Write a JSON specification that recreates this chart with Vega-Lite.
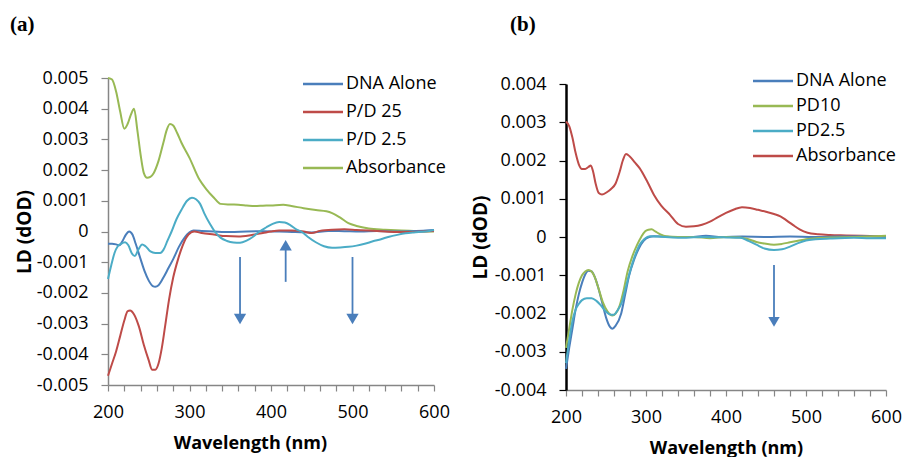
{
  "$schema": "https://vega.github.io/schema/vega-lite/v6.json",
  "background": "white",
  "padding": {"left": 10, "top": 14, "right": 5, "bottom": 0},
  "spacing": 21,
  "config": {
    "view": {"stroke": null},
    "font": "Open Sans",
    "axis": {"grid": false, "labelFont": "Open Sans", "labelFontSize": 18, "labelColor": "#000", "labelOverlap": false, "labelBound": false, "titleFont": "Open Sans", "titleFontSize": 18, "titleFontWeight": "bold", "titleColor": "#000", "domainColor": "#868686", "tickColor": "#868686", "domainWidth": 1.5, "tickWidth": 1.2, "tickSize": 6},
    "legend": {"labelFont": "Open Sans", "labelFontSize": 18, "labelColor": "#000", "symbolType": "M-5,0L5,0", "symbolStrokeWidth": 2.5, "symbolSize": 64, "padding": 0, "labelOffset": 14},
    "title": {"font": "Liberation Serif", "fontSize": 21, "fontWeight": "bold", "color": "#000", "anchor": "start", "frame": "group"}
  },
  "datasets": {
    "a": [
      {"wl":200,"ld":0.005,"s":"Absorbance"},{"wl":205,"ld":0.00495,"s":"Absorbance"},{"wl":210,"ld":0.00455,"s":"Absorbance"},{"wl":215,"ld":0.0039,"s":"Absorbance"},{"wl":220,"ld":0.00335,"s":"Absorbance"},{"wl":224,"ld":0.0035,"s":"Absorbance"},{"wl":228,"ld":0.0038,"s":"Absorbance"},{"wl":232,"ld":0.004,"s":"Absorbance"},{"wl":236,"ld":0.0033,"s":"Absorbance"},{"wl":240,"ld":0.0025,"s":"Absorbance"},{"wl":244,"ld":0.0019,"s":"Absorbance"},{"wl":248,"ld":0.00175,"s":"Absorbance"},{"wl":252,"ld":0.00178,"s":"Absorbance"},{"wl":256,"ld":0.0019,"s":"Absorbance"},{"wl":262,"ld":0.0023,"s":"Absorbance"},{"wl":268,"ld":0.0029,"s":"Absorbance"},{"wl":272,"ld":0.0033,"s":"Absorbance"},{"wl":276,"ld":0.0035,"s":"Absorbance"},{"wl":280,"ld":0.00345,"s":"Absorbance"},{"wl":285,"ld":0.0032,"s":"Absorbance"},{"wl":290,"ld":0.0029,"s":"Absorbance"},{"wl":300,"ld":0.0024,"s":"Absorbance"},{"wl":312,"ld":0.0017,"s":"Absorbance"},{"wl":320,"ld":0.0014,"s":"Absorbance"},{"wl":330,"ld":0.0011,"s":"Absorbance"},{"wl":338,"ld":0.0009,"s":"Absorbance"},{"wl":350,"ld":0.00088,"s":"Absorbance"},{"wl":360,"ld":0.00087,"s":"Absorbance"},{"wl":370,"ld":0.00085,"s":"Absorbance"},{"wl":380,"ld":0.00083,"s":"Absorbance"},{"wl":390,"ld":0.00084,"s":"Absorbance"},{"wl":400,"ld":0.00085,"s":"Absorbance"},{"wl":415,"ld":0.00087,"s":"Absorbance"},{"wl":425,"ld":0.00083,"s":"Absorbance"},{"wl":440,"ld":0.00076,"s":"Absorbance"},{"wl":455,"ld":0.0007,"s":"Absorbance"},{"wl":468,"ld":0.00066,"s":"Absorbance"},{"wl":475,"ld":0.0006,"s":"Absorbance"},{"wl":485,"ld":0.00045,"s":"Absorbance"},{"wl":495,"ld":0.00027,"s":"Absorbance"},{"wl":505,"ld":0.00018,"s":"Absorbance"},{"wl":520,"ld":0.0001,"s":"Absorbance"},{"wl":540,"ld":0.00006,"s":"Absorbance"},{"wl":560,"ld":0.00003,"s":"Absorbance"},{"wl":580,"ld":0.00001,"s":"Absorbance"},{"wl":600,"ld":0.0,"s":"Absorbance"},
      {"wl":200,"ld":-0.0004,"s":"DNA Alone"},{"wl":205,"ld":-0.0004,"s":"DNA Alone"},{"wl":210,"ld":-0.00042,"s":"DNA Alone"},{"wl":214,"ld":-0.00045,"s":"DNA Alone"},{"wl":218,"ld":-0.0003,"s":"DNA Alone"},{"wl":222,"ld":-0.0001,"s":"DNA Alone"},{"wl":226,"ld":0.0,"s":"DNA Alone"},{"wl":230,"ld":-0.0001,"s":"DNA Alone"},{"wl":234,"ld":-0.0004,"s":"DNA Alone"},{"wl":240,"ld":-0.0009,"s":"DNA Alone"},{"wl":245,"ld":-0.0013,"s":"DNA Alone"},{"wl":250,"ld":-0.0016,"s":"DNA Alone"},{"wl":255,"ld":-0.00178,"s":"DNA Alone"},{"wl":258,"ld":-0.0018,"s":"DNA Alone"},{"wl":262,"ld":-0.00175,"s":"DNA Alone"},{"wl":268,"ld":-0.0015,"s":"DNA Alone"},{"wl":274,"ld":-0.0012,"s":"DNA Alone"},{"wl":280,"ld":-0.0009,"s":"DNA Alone"},{"wl":287,"ld":-0.0005,"s":"DNA Alone"},{"wl":294,"ld":-0.0002,"s":"DNA Alone"},{"wl":300,"ld":-0.00003,"s":"DNA Alone"},{"wl":305,"ld":0.00003,"s":"DNA Alone"},{"wl":315,"ld":0.00002,"s":"DNA Alone"},{"wl":330,"ld":0.0,"s":"DNA Alone"},{"wl":350,"ld":-0.00002,"s":"DNA Alone"},{"wl":370,"ld":0.0,"s":"DNA Alone"},{"wl":390,"ld":0.00001,"s":"DNA Alone"},{"wl":410,"ld":0.0,"s":"DNA Alone"},{"wl":430,"ld":-0.00002,"s":"DNA Alone"},{"wl":450,"ld":-0.00003,"s":"DNA Alone"},{"wl":470,"ld":0.00002,"s":"DNA Alone"},{"wl":490,"ld":0.00001,"s":"DNA Alone"},{"wl":510,"ld":0.0,"s":"DNA Alone"},{"wl":530,"ld":0.00002,"s":"DNA Alone"},{"wl":550,"ld":0.0,"s":"DNA Alone"},{"wl":570,"ld":0.00001,"s":"DNA Alone"},{"wl":590,"ld":0.00003,"s":"DNA Alone"},{"wl":600,"ld":0.00005,"s":"DNA Alone"},
      {"wl":200,"ld":-0.0047,"s":"P/D 25"},{"wl":205,"ld":-0.0043,"s":"P/D 25"},{"wl":210,"ld":-0.0039,"s":"P/D 25"},{"wl":215,"ld":-0.0034,"s":"P/D 25"},{"wl":220,"ld":-0.0029,"s":"P/D 25"},{"wl":224,"ld":-0.0026,"s":"P/D 25"},{"wl":227,"ld":-0.00257,"s":"P/D 25"},{"wl":232,"ld":-0.0027,"s":"P/D 25"},{"wl":238,"ld":-0.0031,"s":"P/D 25"},{"wl":244,"ld":-0.0037,"s":"P/D 25"},{"wl":250,"ld":-0.0042,"s":"P/D 25"},{"wl":254,"ld":-0.0045,"s":"P/D 25"},{"wl":258,"ld":-0.0045,"s":"P/D 25"},{"wl":262,"ld":-0.0043,"s":"P/D 25"},{"wl":266,"ld":-0.0038,"s":"P/D 25"},{"wl":270,"ld":-0.0031,"s":"P/D 25"},{"wl":275,"ld":-0.0022,"s":"P/D 25"},{"wl":280,"ld":-0.0015,"s":"P/D 25"},{"wl":286,"ld":-0.0009,"s":"P/D 25"},{"wl":291,"ld":-0.0005,"s":"P/D 25"},{"wl":296,"ld":-0.0002,"s":"P/D 25"},{"wl":302,"ld":-0.00003,"s":"P/D 25"},{"wl":306,"ld":0.0,"s":"P/D 25"},{"wl":315,"ld":-0.00005,"s":"P/D 25"},{"wl":330,"ld":-0.0001,"s":"P/D 25"},{"wl":345,"ld":-0.00015,"s":"P/D 25"},{"wl":360,"ld":-0.00016,"s":"P/D 25"},{"wl":375,"ld":-0.00012,"s":"P/D 25"},{"wl":390,"ld":-0.00005,"s":"P/D 25"},{"wl":400,"ld":0.0,"s":"P/D 25"},{"wl":410,"ld":0.00003,"s":"P/D 25"},{"wl":425,"ld":0.00003,"s":"P/D 25"},{"wl":440,"ld":0.0,"s":"P/D 25"},{"wl":450,"ld":-0.00005,"s":"P/D 25"},{"wl":460,"ld":0.00002,"s":"P/D 25"},{"wl":475,"ld":0.00006,"s":"P/D 25"},{"wl":490,"ld":0.00007,"s":"P/D 25"},{"wl":505,"ld":0.00005,"s":"P/D 25"},{"wl":520,"ld":0.00003,"s":"P/D 25"},{"wl":540,"ld":0.0,"s":"P/D 25"},{"wl":555,"ld":-0.00002,"s":"P/D 25"},{"wl":570,"ld":-0.00002,"s":"P/D 25"},{"wl":585,"ld":0.0,"s":"P/D 25"},{"wl":600,"ld":0.00002,"s":"P/D 25"},
      {"wl":200,"ld":-0.00155,"s":"P/D 2.5"},{"wl":204,"ld":-0.0011,"s":"P/D 2.5"},{"wl":208,"ld":-0.0007,"s":"P/D 2.5"},{"wl":212,"ld":-0.00048,"s":"P/D 2.5"},{"wl":216,"ld":-0.0004,"s":"P/D 2.5"},{"wl":221,"ld":-0.00035,"s":"P/D 2.5"},{"wl":225,"ld":-0.00045,"s":"P/D 2.5"},{"wl":229,"ld":-0.0007,"s":"P/D 2.5"},{"wl":233,"ld":-0.0008,"s":"P/D 2.5"},{"wl":237,"ld":-0.0006,"s":"P/D 2.5"},{"wl":242,"ld":-0.00042,"s":"P/D 2.5"},{"wl":246,"ld":-0.00048,"s":"P/D 2.5"},{"wl":252,"ld":-0.00065,"s":"P/D 2.5"},{"wl":258,"ld":-0.0007,"s":"P/D 2.5"},{"wl":264,"ld":-0.0007,"s":"P/D 2.5"},{"wl":268,"ld":-0.0006,"s":"P/D 2.5"},{"wl":273,"ld":-0.0003,"s":"P/D 2.5"},{"wl":278,"ld":0.0,"s":"P/D 2.5"},{"wl":284,"ld":0.0004,"s":"P/D 2.5"},{"wl":290,"ld":0.0007,"s":"P/D 2.5"},{"wl":297,"ld":0.001,"s":"P/D 2.5"},{"wl":303,"ld":0.0011,"s":"P/D 2.5"},{"wl":308,"ld":0.00105,"s":"P/D 2.5"},{"wl":313,"ld":0.0009,"s":"P/D 2.5"},{"wl":318,"ld":0.0006,"s":"P/D 2.5"},{"wl":325,"ld":0.00025,"s":"P/D 2.5"},{"wl":331,"ld":0.0,"s":"P/D 2.5"},{"wl":338,"ld":-0.0002,"s":"P/D 2.5"},{"wl":346,"ld":-0.00031,"s":"P/D 2.5"},{"wl":354,"ld":-0.00036,"s":"P/D 2.5"},{"wl":362,"ld":-0.00037,"s":"P/D 2.5"},{"wl":370,"ld":-0.0003,"s":"P/D 2.5"},{"wl":378,"ld":-0.00017,"s":"P/D 2.5"},{"wl":386,"ld":0.0,"s":"P/D 2.5"},{"wl":394,"ld":0.00013,"s":"P/D 2.5"},{"wl":402,"ld":0.00025,"s":"P/D 2.5"},{"wl":410,"ld":0.00031,"s":"P/D 2.5"},{"wl":417,"ld":0.00029,"s":"P/D 2.5"},{"wl":424,"ld":0.0002,"s":"P/D 2.5"},{"wl":431,"ld":0.00007,"s":"P/D 2.5"},{"wl":437,"ld":0.0,"s":"P/D 2.5"},{"wl":445,"ld":-0.00017,"s":"P/D 2.5"},{"wl":455,"ld":-0.00035,"s":"P/D 2.5"},{"wl":465,"ld":-0.00048,"s":"P/D 2.5"},{"wl":475,"ld":-0.00053,"s":"P/D 2.5"},{"wl":485,"ld":-0.00052,"s":"P/D 2.5"},{"wl":495,"ld":-0.0005,"s":"P/D 2.5"},{"wl":505,"ld":-0.00046,"s":"P/D 2.5"},{"wl":515,"ld":-0.0004,"s":"P/D 2.5"},{"wl":525,"ld":-0.00032,"s":"P/D 2.5"},{"wl":535,"ld":-0.00025,"s":"P/D 2.5"},{"wl":545,"ld":-0.00017,"s":"P/D 2.5"},{"wl":555,"ld":-0.00011,"s":"P/D 2.5"},{"wl":565,"ld":-0.00006,"s":"P/D 2.5"},{"wl":575,"ld":-0.00003,"s":"P/D 2.5"},{"wl":590,"ld":0.0,"s":"P/D 2.5"},{"wl":600,"ld":0.00005,"s":"P/D 2.5"}
    ],
    "b": [
      {"wl":200,"ld":0.00302,"s":"Absorbance"},{"wl":204,"ld":0.0029,"s":"Absorbance"},{"wl":208,"ld":0.0026,"s":"Absorbance"},{"wl":212,"ld":0.0022,"s":"Absorbance"},{"wl":216,"ld":0.0019,"s":"Absorbance"},{"wl":220,"ld":0.00178,"s":"Absorbance"},{"wl":224,"ld":0.00178,"s":"Absorbance"},{"wl":228,"ld":0.00183,"s":"Absorbance"},{"wl":231,"ld":0.00187,"s":"Absorbance"},{"wl":234,"ld":0.0017,"s":"Absorbance"},{"wl":237,"ld":0.0014,"s":"Absorbance"},{"wl":241,"ld":0.00115,"s":"Absorbance"},{"wl":245,"ld":0.00111,"s":"Absorbance"},{"wl":251,"ld":0.00117,"s":"Absorbance"},{"wl":256,"ld":0.00125,"s":"Absorbance"},{"wl":262,"ld":0.0014,"s":"Absorbance"},{"wl":267,"ld":0.0017,"s":"Absorbance"},{"wl":271,"ld":0.002,"s":"Absorbance"},{"wl":275,"ld":0.00217,"s":"Absorbance"},{"wl":280,"ld":0.0021,"s":"Absorbance"},{"wl":286,"ld":0.00195,"s":"Absorbance"},{"wl":292,"ld":0.0018,"s":"Absorbance"},{"wl":302,"ld":0.00143,"s":"Absorbance"},{"wl":310,"ld":0.0011,"s":"Absorbance"},{"wl":319,"ld":0.00082,"s":"Absorbance"},{"wl":330,"ld":0.00058,"s":"Absorbance"},{"wl":340,"ld":0.00034,"s":"Absorbance"},{"wl":350,"ld":0.00027,"s":"Absorbance"},{"wl":360,"ld":0.00028,"s":"Absorbance"},{"wl":370,"ld":0.00032,"s":"Absorbance"},{"wl":380,"ld":0.0004,"s":"Absorbance"},{"wl":390,"ld":0.00052,"s":"Absorbance"},{"wl":400,"ld":0.00063,"s":"Absorbance"},{"wl":410,"ld":0.00072,"s":"Absorbance"},{"wl":420,"ld":0.00078,"s":"Absorbance"},{"wl":430,"ld":0.00076,"s":"Absorbance"},{"wl":440,"ld":0.00071,"s":"Absorbance"},{"wl":450,"ld":0.00066,"s":"Absorbance"},{"wl":460,"ld":0.0006,"s":"Absorbance"},{"wl":468,"ld":0.00054,"s":"Absorbance"},{"wl":476,"ld":0.00043,"s":"Absorbance"},{"wl":484,"ld":0.00031,"s":"Absorbance"},{"wl":492,"ld":0.0002,"s":"Absorbance"},{"wl":502,"ld":0.00011,"s":"Absorbance"},{"wl":515,"ld":0.00007,"s":"Absorbance"},{"wl":530,"ld":0.00005,"s":"Absorbance"},{"wl":550,"ld":0.00004,"s":"Absorbance"},{"wl":570,"ld":0.00003,"s":"Absorbance"},{"wl":585,"ld":0.00002,"s":"Absorbance"},{"wl":600,"ld":0.00001,"s":"Absorbance"},
      {"wl":200,"ld":-0.00345,"s":"DNA Alone"},{"wl":204,"ld":-0.0029,"s":"DNA Alone"},{"wl":208,"ld":-0.0024,"s":"DNA Alone"},{"wl":212,"ld":-0.0019,"s":"DNA Alone"},{"wl":216,"ld":-0.0015,"s":"DNA Alone"},{"wl":220,"ld":-0.0012,"s":"DNA Alone"},{"wl":224,"ld":-0.00098,"s":"DNA Alone"},{"wl":228,"ld":-0.00088,"s":"DNA Alone"},{"wl":232,"ld":-0.0009,"s":"DNA Alone"},{"wl":236,"ld":-0.00105,"s":"DNA Alone"},{"wl":240,"ld":-0.0013,"s":"DNA Alone"},{"wl":245,"ld":-0.0017,"s":"DNA Alone"},{"wl":250,"ld":-0.0021,"s":"DNA Alone"},{"wl":255,"ld":-0.00235,"s":"DNA Alone"},{"wl":258,"ld":-0.0024,"s":"DNA Alone"},{"wl":262,"ld":-0.00232,"s":"DNA Alone"},{"wl":269,"ld":-0.002,"s":"DNA Alone"},{"wl":274,"ld":-0.0015,"s":"DNA Alone"},{"wl":279,"ld":-0.001,"s":"DNA Alone"},{"wl":285,"ld":-0.0006,"s":"DNA Alone"},{"wl":291,"ld":-0.0003,"s":"DNA Alone"},{"wl":297,"ld":-0.0001,"s":"DNA Alone"},{"wl":304,"ld":0.0,"s":"DNA Alone"},{"wl":310,"ld":0.00002,"s":"DNA Alone"},{"wl":330,"ld":0.0,"s":"DNA Alone"},{"wl":355,"ld":0.0,"s":"DNA Alone"},{"wl":375,"ld":0.00003,"s":"DNA Alone"},{"wl":395,"ld":0.0,"s":"DNA Alone"},{"wl":420,"ld":0.00001,"s":"DNA Alone"},{"wl":450,"ld":0.0,"s":"DNA Alone"},{"wl":480,"ld":0.00001,"s":"DNA Alone"},{"wl":510,"ld":0.0,"s":"DNA Alone"},{"wl":540,"ld":0.00001,"s":"DNA Alone"},{"wl":570,"ld":0.00002,"s":"DNA Alone"},{"wl":600,"ld":0.0,"s":"DNA Alone"},
      {"wl":200,"ld":-0.0029,"s":"PD10"},{"wl":204,"ld":-0.0024,"s":"PD10"},{"wl":208,"ld":-0.0019,"s":"PD10"},{"wl":212,"ld":-0.0015,"s":"PD10"},{"wl":216,"ld":-0.0012,"s":"PD10"},{"wl":220,"ld":-0.001,"s":"PD10"},{"wl":224,"ld":-0.0009,"s":"PD10"},{"wl":228,"ld":-0.00086,"s":"PD10"},{"wl":232,"ld":-0.0009,"s":"PD10"},{"wl":236,"ld":-0.00105,"s":"PD10"},{"wl":240,"ld":-0.0013,"s":"PD10"},{"wl":246,"ld":-0.0017,"s":"PD10"},{"wl":252,"ld":-0.00195,"s":"PD10"},{"wl":258,"ld":-0.00205,"s":"PD10"},{"wl":262,"ld":-0.002,"s":"PD10"},{"wl":267,"ld":-0.0018,"s":"PD10"},{"wl":272,"ld":-0.0014,"s":"PD10"},{"wl":277,"ld":-0.0009,"s":"PD10"},{"wl":283,"ld":-0.0005,"s":"PD10"},{"wl":289,"ld":-0.0002,"s":"PD10"},{"wl":294,"ld":0.0,"s":"PD10"},{"wl":299,"ld":0.00015,"s":"PD10"},{"wl":303,"ld":0.00019,"s":"PD10"},{"wl":307,"ld":0.0002,"s":"PD10"},{"wl":312,"ld":0.00014,"s":"PD10"},{"wl":318,"ld":0.00007,"s":"PD10"},{"wl":325,"ld":0.00002,"s":"PD10"},{"wl":340,"ld":0.0,"s":"PD10"},{"wl":360,"ld":0.0,"s":"PD10"},{"wl":380,"ld":-0.00003,"s":"PD10"},{"wl":400,"ld":0.0,"s":"PD10"},{"wl":418,"ld":-0.00001,"s":"PD10"},{"wl":428,"ld":-0.00006,"s":"PD10"},{"wl":438,"ld":-0.00013,"s":"PD10"},{"wl":448,"ld":-0.00017,"s":"PD10"},{"wl":460,"ld":-0.0002,"s":"PD10"},{"wl":470,"ld":-0.00018,"s":"PD10"},{"wl":480,"ld":-0.00014,"s":"PD10"},{"wl":490,"ld":-0.0001,"s":"PD10"},{"wl":500,"ld":-0.00006,"s":"PD10"},{"wl":512,"ld":-0.00003,"s":"PD10"},{"wl":530,"ld":-0.00001,"s":"PD10"},{"wl":560,"ld":0.0,"s":"PD10"},{"wl":600,"ld":0.00003,"s":"PD10"},
      {"wl":200,"ld":-0.0033,"s":"PD2.5"},{"wl":204,"ld":-0.0027,"s":"PD2.5"},{"wl":208,"ld":-0.0022,"s":"PD2.5"},{"wl":212,"ld":-0.0019,"s":"PD2.5"},{"wl":216,"ld":-0.00175,"s":"PD2.5"},{"wl":220,"ld":-0.00165,"s":"PD2.5"},{"wl":226,"ld":-0.0016,"s":"PD2.5"},{"wl":232,"ld":-0.0016,"s":"PD2.5"},{"wl":238,"ld":-0.00167,"s":"PD2.5"},{"wl":244,"ld":-0.0018,"s":"PD2.5"},{"wl":250,"ld":-0.00195,"s":"PD2.5"},{"wl":256,"ld":-0.00203,"s":"PD2.5"},{"wl":260,"ld":-0.00203,"s":"PD2.5"},{"wl":265,"ld":-0.0019,"s":"PD2.5"},{"wl":270,"ld":-0.0017,"s":"PD2.5"},{"wl":275,"ld":-0.0013,"s":"PD2.5"},{"wl":280,"ld":-0.0009,"s":"PD2.5"},{"wl":286,"ld":-0.0005,"s":"PD2.5"},{"wl":292,"ld":-0.0002,"s":"PD2.5"},{"wl":298,"ld":-0.00005,"s":"PD2.5"},{"wl":305,"ld":0.00002,"s":"PD2.5"},{"wl":315,"ld":0.00001,"s":"PD2.5"},{"wl":340,"ld":-0.00002,"s":"PD2.5"},{"wl":370,"ld":0.0,"s":"PD2.5"},{"wl":400,"ld":-0.00001,"s":"PD2.5"},{"wl":418,"ld":-0.00002,"s":"PD2.5"},{"wl":428,"ld":-0.0001,"s":"PD2.5"},{"wl":438,"ld":-0.0002,"s":"PD2.5"},{"wl":448,"ld":-0.0003,"s":"PD2.5"},{"wl":460,"ld":-0.00034,"s":"PD2.5"},{"wl":470,"ld":-0.00032,"s":"PD2.5"},{"wl":480,"ld":-0.00025,"s":"PD2.5"},{"wl":490,"ld":-0.00016,"s":"PD2.5"},{"wl":500,"ld":-0.00009,"s":"PD2.5"},{"wl":512,"ld":-0.00006,"s":"PD2.5"},{"wl":530,"ld":-0.00004,"s":"PD2.5"},{"wl":560,"ld":-0.00002,"s":"PD2.5"},{"wl":580,"ld":-0.00003,"s":"PD2.5"},{"wl":600,"ld":-0.00003,"s":"PD2.5"}
    ]
  },
  "resolve": {"scale": {"color": "independent", "x": "independent", "y": "independent"}, "legend": {"color": "independent"}},
  "hconcat": [
    {
      "width": 326,
      "height": 307,
      "title": {"text": "(a)", "dx": -98, "offset": 34},
      "layer": [
        {
          "data": {"name": "a"},
          "mark": {"type": "line", "strokeWidth": 2, "interpolate": "monotone"},
          "encoding": {
            "x": {"field": "wl", "type": "quantitative", "scale": {"domain": [200, 600], "nice": false}, "title": "Wavelength (nm)", "axis": {"values": [200,220,240,260,280,300,320,340,360,380,400,420,440,460,480,500,520,540,560,580,600], "tickCount": 100, "labelExpr": "datum.value % 100 == 0 ? datum.label : ''", "labelOverlap": false, "labelFlush": false, "labelPadding": 12, "titlePadding": 13, "titleX": 142}},
            "y": {"field": "ld", "type": "quantitative", "scale": {"domain": [-0.005, 0.005], "nice": false}, "title": "LD (dOD)", "axis": {"values": [-0.005,-0.004,-0.003,-0.002,-0.001,0,0.001,0.002,0.003,0.004,0.005], "tickCount": 100, "labelExpr": "datum.value == 0 ? '0' : replace(format(datum.value, '.3f'), '\u2212', '-')", "labelOverlap": false, "labelFlush": false, "tickSize": 7, "labelPadding": 13, "titlePadding": 2, "titleFontSize": 19, "titleY": 153.5}},
            "color": {"field": "s", "type": "nominal", "scale": {"domain": ["DNA Alone", "P/D 25", "P/D 2.5", "Absorbance"], "range": ["#4A7EBB", "#BE4B48", "#4BACC6", "#98B954"]}, "legend": {"title": null, "orient": "none", "legendX": 206, "legendY": -3, "rowPadding": 10}}
          }
        },
        {
          "data": {"values": [{"wl": 362, "y1": -0.00083, "y2": -0.0027}, {"wl": 500, "y1": -0.00083, "y2": -0.0027}, {"wl": 418, "y1": -0.00164, "y2": -0.0005}]},
          "mark": {"type": "rule", "color": "#4A7EBB", "strokeWidth": 1.8},
          "encoding": {"x": {"field": "wl", "type": "quantitative", "title": "Wavelength (nm)"}, "y": {"field": "y1", "type": "quantitative", "title": "LD (dOD)"}, "y2": {"field": "y2"}}
        },
        {
          "data": {"values": [{"wl": 362, "y": -0.00285, "dir": "triangle-down"}, {"wl": 500, "y": -0.00285, "dir": "triangle-down"}, {"wl": 418, "y": -0.00045, "dir": "triangle-up"}]},
          "mark": {"type": "point", "filled": true, "color": "#4A7EBB", "opacity": 1, "size": 150},
          "encoding": {"x": {"field": "wl", "type": "quantitative", "title": "Wavelength (nm)"}, "y": {"field": "y", "type": "quantitative", "title": "LD (dOD)"}, "shape": {"field": "dir", "type": "nominal", "scale": null}}
        }
      ]
    },
    {
      "width": 320,
      "height": 312,
      "title": {"text": "(b)", "dx": -56, "offset": 37},
      "layer": [
        {
          "data": {"name": "b"},
          "mark": {"type": "line", "strokeWidth": 2, "interpolate": "monotone"},
          "encoding": {
            "x": {"field": "wl", "type": "quantitative", "scale": {"domain": [200, 600], "nice": false}, "title": "Wavelength (nm)", "axis": {"values": [200,220,240,260,280,300,320,340,360,380,400,420,440,460,480,500,520,540,560,580,600], "tickCount": 100, "labelExpr": "datum.value % 100 == 0 ? datum.label : ''", "labelOverlap": false, "labelFlush": false, "labelPadding": 12, "titlePadding": 13}},
            "y": {"field": "ld", "type": "quantitative", "scale": {"domain": [-0.004, 0.004], "nice": false, "range": [312, 6]}, "title": "LD (dOD)", "axis": {"values": [-0.004,-0.003,-0.002,-0.001,0,0.001,0.002,0.003,0.004], "tickCount": 100, "labelExpr": "datum.value == 0 ? '0' : replace(format(datum.value, '.3f'), '\u2212', '-')", "labelOverlap": false, "labelFlush": false, "tickSize": 7, "labelPadding": 13, "titlePadding": 4, "titleFontSize": 19, "titleY": 159, "domainColor": "#000", "domainWidth": 2.5, "tickColor": "#000"}},
            "color": {"field": "s", "type": "nominal", "scale": {"domain": ["DNA Alone", "PD10", "PD2.5", "Absorbance"], "range": ["#4A7EBB", "#98B954", "#4BACC6", "#BE4B48"]}, "legend": {"title": null, "orient": "none", "legendX": 198, "legendY": -6, "rowPadding": 7}}
          }
        },
        {
          "data": {"values": [{"wl": 460, "y1": -0.00073, "y2": -0.0022}]},
          "mark": {"type": "rule", "color": "#4A7EBB", "strokeWidth": 1.8},
          "encoding": {"x": {"field": "wl", "type": "quantitative", "title": "Wavelength (nm)"}, "y": {"field": "y1", "type": "quantitative", "title": "LD (dOD)"}, "y2": {"field": "y2"}}
        },
        {
          "data": {"values": [{"wl": 460, "y": -0.00222, "dir": "triangle-down"}]},
          "mark": {"type": "point", "filled": true, "color": "#4A7EBB", "opacity": 1, "size": 130},
          "encoding": {"x": {"field": "wl", "type": "quantitative", "title": "Wavelength (nm)"}, "y": {"field": "y", "type": "quantitative", "title": "LD (dOD)"}, "shape": {"field": "dir", "type": "nominal", "scale": null}}
        }
      ]
    }
  ]
}
